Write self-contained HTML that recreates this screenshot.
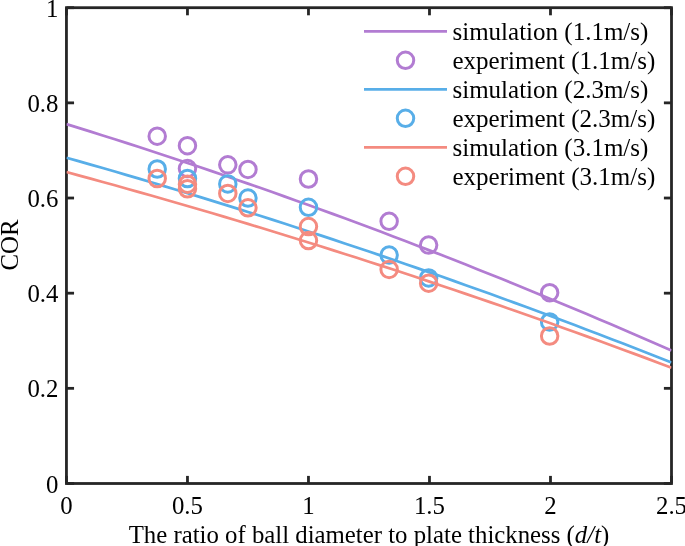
<!DOCTYPE html>
<html><head><meta charset="utf-8"><style>html,body{margin:0;padding:0;background:#fff;width:685px;height:546px;overflow:hidden;font-family:"Liberation Serif",serif}</style></head>
<body>
<svg width="685" height="546" viewBox="0 0 685 546" style="position:absolute;left:0;top:0;will-change:transform">
<defs><clipPath id="c"><rect x="66.45" y="7.7" width="605.05" height="475.8"/></clipPath></defs>
<rect x="66.45" y="7.7" width="605.05" height="475.8" fill="none" stroke="#262626" stroke-width="2.8"/>
<line x1="66.45" y1="483.5" x2="66.45" y2="475.9" stroke="#262626" stroke-width="2.8"/>
<line x1="66.45" y1="7.7" x2="66.45" y2="15.3" stroke="#262626" stroke-width="2.8"/>
<line x1="187.46" y1="483.5" x2="187.46" y2="475.9" stroke="#262626" stroke-width="2.8"/>
<line x1="187.46" y1="7.7" x2="187.46" y2="15.3" stroke="#262626" stroke-width="2.8"/>
<line x1="308.47" y1="483.5" x2="308.47" y2="475.9" stroke="#262626" stroke-width="2.8"/>
<line x1="308.47" y1="7.7" x2="308.47" y2="15.3" stroke="#262626" stroke-width="2.8"/>
<line x1="429.48" y1="483.5" x2="429.48" y2="475.9" stroke="#262626" stroke-width="2.8"/>
<line x1="429.48" y1="7.7" x2="429.48" y2="15.3" stroke="#262626" stroke-width="2.8"/>
<line x1="550.49" y1="483.5" x2="550.49" y2="475.9" stroke="#262626" stroke-width="2.8"/>
<line x1="550.49" y1="7.7" x2="550.49" y2="15.3" stroke="#262626" stroke-width="2.8"/>
<line x1="671.50" y1="483.5" x2="671.50" y2="475.9" stroke="#262626" stroke-width="2.8"/>
<line x1="671.50" y1="7.7" x2="671.50" y2="15.3" stroke="#262626" stroke-width="2.8"/>
<line x1="66.45" y1="483.50" x2="74.05" y2="483.50" stroke="#262626" stroke-width="2.8"/>
<line x1="671.5" y1="483.50" x2="663.9" y2="483.50" stroke="#262626" stroke-width="2.8"/>
<line x1="66.45" y1="388.34" x2="74.05" y2="388.34" stroke="#262626" stroke-width="2.8"/>
<line x1="671.5" y1="388.34" x2="663.9" y2="388.34" stroke="#262626" stroke-width="2.8"/>
<line x1="66.45" y1="293.18" x2="74.05" y2="293.18" stroke="#262626" stroke-width="2.8"/>
<line x1="671.5" y1="293.18" x2="663.9" y2="293.18" stroke="#262626" stroke-width="2.8"/>
<line x1="66.45" y1="198.02" x2="74.05" y2="198.02" stroke="#262626" stroke-width="2.8"/>
<line x1="671.5" y1="198.02" x2="663.9" y2="198.02" stroke="#262626" stroke-width="2.8"/>
<line x1="66.45" y1="102.86" x2="74.05" y2="102.86" stroke="#262626" stroke-width="2.8"/>
<line x1="671.5" y1="102.86" x2="663.9" y2="102.86" stroke="#262626" stroke-width="2.8"/>
<line x1="66.45" y1="7.70" x2="74.05" y2="7.70" stroke="#262626" stroke-width="2.8"/>
<line x1="671.5" y1="7.70" x2="663.9" y2="7.70" stroke="#262626" stroke-width="2.8"/>
<g clip-path="url(#c)">
<path d="M66.45,124.10 L78.55,127.84 L90.65,131.62 L102.75,135.42 L114.85,139.26 L126.95,143.14 L139.06,147.04 L151.16,150.97 L163.26,154.94 L175.36,158.94 L187.46,162.97 L199.56,167.04 L211.66,171.14 L223.76,175.26 L235.86,179.43 L247.96,183.62 L260.07,187.84 L272.17,192.10 L284.27,196.39 L296.37,200.71 L308.47,205.06 L320.57,209.45 L332.67,213.87 L344.77,218.32 L356.87,222.80 L368.97,227.31 L381.08,231.86 L393.18,236.44 L405.28,241.05 L417.38,245.69 L429.48,250.37 L441.58,255.07 L453.68,259.81 L465.78,264.58 L477.88,269.39 L489.98,274.22 L502.09,279.09 L514.19,283.99 L526.29,288.92 L538.39,293.89 L550.49,298.88 L562.59,303.91 L574.69,308.97 L586.79,314.06 L598.89,319.19 L611.00,324.35 L623.10,329.54 L635.20,334.76 L647.30,340.01 L659.40,345.30 L671.50,350.61" fill="none" stroke="#B27CD2" stroke-width="2.7"/>
<circle cx="157.21" cy="136.17" r="8.25" fill="none" stroke="#B27CD2" stroke-width="3.0"/>
<circle cx="187.46" cy="145.68" r="8.25" fill="none" stroke="#B27CD2" stroke-width="3.0"/>
<circle cx="187.46" cy="168.52" r="8.25" fill="none" stroke="#B27CD2" stroke-width="3.0"/>
<circle cx="227.80" cy="164.86" r="8.25" fill="none" stroke="#B27CD2" stroke-width="3.0"/>
<circle cx="247.96" cy="169.47" r="8.25" fill="none" stroke="#B27CD2" stroke-width="3.0"/>
<circle cx="308.47" cy="178.99" r="8.25" fill="none" stroke="#B27CD2" stroke-width="3.0"/>
<circle cx="389.14" cy="221.33" r="8.25" fill="none" stroke="#B27CD2" stroke-width="3.0"/>
<circle cx="428.63" cy="245.12" r="8.25" fill="none" stroke="#B27CD2" stroke-width="3.0"/>
<circle cx="549.64" cy="292.70" r="8.25" fill="none" stroke="#B27CD2" stroke-width="3.0"/>
<path d="M66.45,157.70 L78.55,161.13 L90.65,164.58 L102.75,168.06 L114.85,171.57 L126.95,175.11 L139.06,178.67 L151.16,182.26 L163.26,185.88 L175.36,189.52 L187.46,193.19 L199.56,196.89 L211.66,200.62 L223.76,204.37 L235.86,208.15 L247.96,211.96 L260.07,215.80 L272.17,219.66 L284.27,223.55 L296.37,227.47 L308.47,231.41 L320.57,235.38 L332.67,239.38 L344.77,243.41 L356.87,247.46 L368.97,251.55 L381.08,255.65 L393.18,259.79 L405.28,263.95 L417.38,268.14 L429.48,272.36 L441.58,276.60 L453.68,280.88 L465.78,285.17 L477.88,289.50 L489.98,293.85 L502.09,298.24 L514.19,302.64 L526.29,307.08 L538.39,311.54 L550.49,316.03 L562.59,320.55 L574.69,325.09 L586.79,329.66 L598.89,334.26 L611.00,338.89 L623.10,343.54 L635.20,348.22 L647.30,352.93 L659.40,357.67 L671.50,362.43" fill="none" stroke="#58AEE8" stroke-width="2.7"/>
<circle cx="157.21" cy="169.00" r="8.25" fill="none" stroke="#58AEE8" stroke-width="3.0"/>
<circle cx="187.46" cy="178.51" r="8.25" fill="none" stroke="#58AEE8" stroke-width="3.0"/>
<circle cx="227.80" cy="183.89" r="8.25" fill="none" stroke="#58AEE8" stroke-width="3.0"/>
<circle cx="247.96" cy="198.02" r="8.25" fill="none" stroke="#58AEE8" stroke-width="3.0"/>
<circle cx="308.47" cy="207.30" r="8.25" fill="none" stroke="#58AEE8" stroke-width="3.0"/>
<circle cx="389.14" cy="255.12" r="8.25" fill="none" stroke="#58AEE8" stroke-width="3.0"/>
<circle cx="428.63" cy="277.95" r="8.25" fill="none" stroke="#58AEE8" stroke-width="3.0"/>
<circle cx="549.64" cy="321.97" r="8.25" fill="none" stroke="#58AEE8" stroke-width="3.0"/>
<path d="M66.45,172.07 L78.55,175.34 L90.65,178.64 L102.75,181.97 L114.85,185.32 L126.95,188.69 L139.06,192.09 L151.16,195.52 L163.26,198.98 L175.36,202.46 L187.46,205.96 L199.56,209.50 L211.66,213.06 L223.76,216.64 L235.86,220.25 L247.96,223.89 L260.07,227.56 L272.17,231.25 L284.27,234.96 L296.37,238.71 L308.47,242.47 L320.57,246.27 L332.67,250.09 L344.77,253.94 L356.87,257.81 L368.97,261.71 L381.08,265.64 L393.18,269.59 L405.28,273.57 L417.38,277.57 L429.48,281.60 L441.58,285.66 L453.68,289.74 L465.78,293.85 L477.88,297.98 L489.98,302.14 L502.09,306.33 L514.19,310.55 L526.29,314.79 L538.39,319.05 L550.49,323.34 L562.59,327.66 L574.69,332.01 L586.79,336.38 L598.89,340.77 L611.00,345.20 L623.10,349.65 L635.20,354.12 L647.30,358.62 L659.40,363.15 L671.50,367.71" fill="none" stroke="#F48B80" stroke-width="2.7"/>
<circle cx="157.21" cy="178.51" r="8.25" fill="none" stroke="#F48B80" stroke-width="3.0"/>
<circle cx="187.46" cy="184.22" r="8.25" fill="none" stroke="#F48B80" stroke-width="3.0"/>
<circle cx="187.46" cy="188.74" r="8.25" fill="none" stroke="#F48B80" stroke-width="3.0"/>
<circle cx="227.80" cy="193.40" r="8.25" fill="none" stroke="#F48B80" stroke-width="3.0"/>
<circle cx="247.96" cy="207.77" r="8.25" fill="none" stroke="#F48B80" stroke-width="3.0"/>
<circle cx="308.47" cy="226.57" r="8.25" fill="none" stroke="#F48B80" stroke-width="3.0"/>
<circle cx="308.47" cy="240.60" r="8.25" fill="none" stroke="#F48B80" stroke-width="3.0"/>
<circle cx="389.14" cy="269.39" r="8.25" fill="none" stroke="#F48B80" stroke-width="3.0"/>
<circle cx="428.63" cy="283.19" r="8.25" fill="none" stroke="#F48B80" stroke-width="3.0"/>
<circle cx="549.64" cy="336.00" r="8.25" fill="none" stroke="#F48B80" stroke-width="3.0"/>
</g>
<g font-family="Liberation Serif" font-size="24.8" fill="#000">
<text x="66.45" y="513.6" text-anchor="middle">0</text>
<text x="187.46" y="513.6" text-anchor="middle">0.5</text>
<text x="308.47" y="513.6" text-anchor="middle">1</text>
<text x="429.48" y="513.6" text-anchor="middle">1.5</text>
<text x="550.49" y="513.6" text-anchor="middle">2</text>
<text x="671.50" y="513.6" text-anchor="middle">2.5</text>
<text x="58.4" y="492.50" text-anchor="end">0</text>
<text x="58.4" y="397.34" text-anchor="end">0.2</text>
<text x="58.4" y="302.18" text-anchor="end">0.4</text>
<text x="58.4" y="207.02" text-anchor="end">0.6</text>
<text x="58.4" y="111.86" text-anchor="end">0.8</text>
<text x="58.4" y="16.70" text-anchor="end">1</text>
<text x="0" y="0" transform="translate(17.5,245) rotate(-90)" text-anchor="middle">COR</text>
<text x="368.98" y="542.6" text-anchor="middle">The ratio of ball diameter to plate thickness (<tspan font-style="italic">d/t</tspan>)</text>
</g>
<line x1="364" y1="31.299999999999997" x2="447" y2="31.299999999999997" stroke="#B27CD2" stroke-width="2.7"/>
<circle cx="405.5" cy="60.3" r="8.25" fill="none" stroke="#B27CD2" stroke-width="3.0"/>
<line x1="364" y1="89.3" x2="447" y2="89.3" stroke="#58AEE8" stroke-width="2.7"/>
<circle cx="405.5" cy="118.3" r="8.25" fill="none" stroke="#58AEE8" stroke-width="3.0"/>
<line x1="364" y1="147.3" x2="447" y2="147.3" stroke="#F48B80" stroke-width="2.7"/>
<circle cx="405.5" cy="176.3" r="8.25" fill="none" stroke="#F48B80" stroke-width="3.0"/>
<g font-family="Liberation Serif" font-size="25.0" fill="#000">
<text x="452.5" y="40.3">simulation (1.1m/s)</text>
<text x="452.5" y="69.3">experiment (1.1m/s)</text>
<text x="452.5" y="98.3">simulation (2.3m/s)</text>
<text x="452.5" y="127.3">experiment (2.3m/s)</text>
<text x="452.5" y="156.3">simulation (3.1m/s)</text>
<text x="452.5" y="185.3">experiment (3.1m/s)</text>
</g>
</svg>
</body></html>
